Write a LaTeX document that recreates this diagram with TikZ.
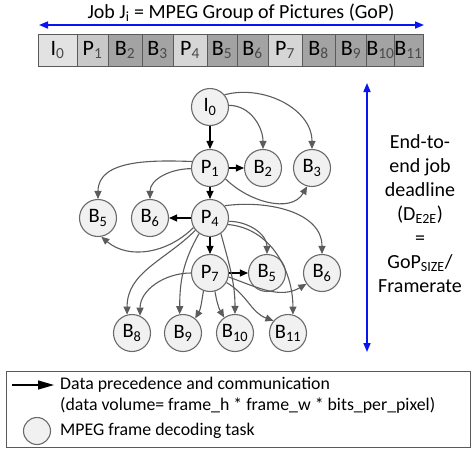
\documentclass[tikz,border=0pt]{standalone}
\usepackage{fontspec}
\setmainfont{Carlito}
\usepackage{xcolor}
\usepackage{tikz}
\usetikzlibrary{arrows.meta}
\definecolor{circFill}{HTML}{F1F1F1}
\definecolor{circLine}{HTML}{6A6A6A}
\definecolor{cellLine}{HTML}{5A5A5A}
\definecolor{cellI}{HTML}{E2E2E2}
\definecolor{cellP}{HTML}{C9C9C9}
\definecolor{cellPl}{HTML}{D6D6D6}
\definecolor{cellB}{HTML}{A3A3A3}
\definecolor{subGrey}{HTML}{4A4A4A}
\definecolor{depGrey}{HTML}{5C5C5C}
\definecolor{spanBlue}{HTML}{0A14F0}
\newcommand{\frm}[2]{#1\textsubscript{#2}}
\tikzset{
  taskcirc/.style={circle, draw=circLine, fill=circFill, line width=1.1pt, minimum size=37pt, inner sep=0pt, font=\fontsize{20.5}{20}\selectfont},
  gopcell/.style={rectangle, draw=cellLine, fill=#1, line width=0.9pt, minimum height=32pt, inner sep=0pt, font=\fontsize{22}{22}\selectfont},
  deparrow/.style={-{Triangle[length=8pt,width=7pt]}, line width=1.1pt, draw=depGrey},
  mainarrow/.style={-{Triangle[length=8pt,width=7pt]}, line width=1.1pt, draw=black},
  spanarrow/.style={{Triangle[length=9pt,width=7pt]}-{Triangle[length=9pt,width=7pt]}, line width=1.6pt, draw=spanBlue},
  legendtext/.style={font=\fontsize{17.8}{20}\selectfont, anchor=west, inner sep=0pt, align=left},
}

\begin{document}
\begin{tikzpicture}[x=1pt,y=1pt]
  \useasboundingbox (0,0) rectangle (472,-451);

  % ---------- group of pictures ----------
  \node[font=\fontsize{20}{20}\selectfont] (title) at (241,-13) {Job \frm{J}{i} = MPEG Group of Pictures (GoP)};
  \coordinate (gopL) at (39,-25);
  \coordinate (gopR) at (424,-25);
  \draw[spanarrow] (gopL) -- (gopR);

  \foreach \lbl/\sb/\xl/\xr/\fc in {I/0/38/77/cellI, P/1/77/108/cellP, B/2/108/142/cellB, B/3/142/173/cellB,
      P/4/173/207/cellPl, B/5/207/237/cellB, B/6/237/268/cellB, P/7/268/302/cellPl,
      B/8/302/335/cellB, B/9/335/367/cellB, B/10/367/394/cellB, B/11/394/423/cellB}{
    \pgfmathsetmacro{\cellx}{(\xl+\xr)/2}
    \pgfmathsetmacro{\cellw}{\xr-\xl}
    \node[gopcell=\fc, minimum width=\cellw pt] (cell\sb) at (\cellx,-50) {\lbl\textsubscript{\color{subGrey}\sb}};
  }

  % ---------- task graph ----------
  \node[taskcirc] (I0)  at (210,-107) {\frm{I}{0}};
  \node[taskcirc] (P1)  at (210,-168) {\frm{P}{1}};
  \node[taskcirc] (B2)  at (263,-168) {\frm{B}{2}};
  \node[taskcirc] (B3)  at (312,-168) {\frm{B}{3}};
  \node[taskcirc] (B5l) at (98,-218)  {\frm{B}{5}};
  \node[taskcirc] (B6l) at (150,-218) {\frm{B}{6}};
  \node[taskcirc] (P4)  at (210,-218) {\frm{P}{4}};
  \node[taskcirc] (P7)  at (210,-273) {\frm{P}{7}};
  \node[taskcirc] (B5r) at (267,-273) {\frm{B}{5}};
  \node[taskcirc] (B6r) at (322,-273) {\frm{B}{6}};
  \node[taskcirc] (B8)  at (132,-333) {\frm{B}{8}};
  \node[taskcirc] (B9)  at (183,-333) {\frm{B}{9}};
  \node[taskcirc] (B10) at (235,-333) {\frm{B}{10}};
  \node[taskcirc] (B11) at (288,-333) {\frm{B}{11}};

  % ---------- direct dependencies ----------
  \draw[mainarrow] (I0) -- (P1);
  \draw[mainarrow] (P1) -- (P4);
  \draw[mainarrow] (P4) -- (P7);
  \draw[mainarrow] (P1) -- (B2);
  \draw[mainarrow] (P4) -- (B6l);
  \draw[mainarrow] (P7) -- (B5r);

  % ---------- reference frames ----------
  \draw[deparrow] (I0.5)    to[out=0,in=90]     (B2.north);
  \draw[deparrow] (I0.40)   to[out=15,in=90]    (B3.north);
  \draw[deparrow] (P1.160)  to[out=178,in=90]   (B5l.north);
  \draw[deparrow] (P1.182)  to[out=180,in=90]   (B6l.north);
  \draw[deparrow] (P1.-35)  to[out=-45,in=-120] (B3.-105);
  \draw[deparrow] (P4.-150) to[out=-135,in=-40] (B5l.-80);
  \draw[deparrow] (P4.-10)  to[out=0,in=90]     (B5r.north);
  \draw[deparrow] (P4.40)   to[out=8,in=90]     (B6r.north);
  \draw[deparrow] (P4.-55)  to[out=-75,in=90]   (B10.north);
  \draw[deparrow] (P4.-20)  to[out=-5,in=90]    (B11.75);
  \draw[deparrow] (P4.-140) to[out=-135,in=90]  (B8.105);
  \draw[deparrow] (P4.-125) to[out=-120,in=90]  (B9.100);
  \draw[deparrow] (P7.west) to[out=180,in=90]   (B8.65);
  \draw[deparrow] (P7.-110) to[out=-100,in=60]  (B9.50);
  \draw[deparrow] (P7.-75)  to[out=-80,in=120]  (B10.125);
  \draw[deparrow] (P7.-30)  to[out=-30,in=160]  (B11.140);
  \draw[deparrow] (P7.-12)  to[out=-20,in=-150] (B6r.-145);

  % ---------- deadline ----------
  \coordinate (dlTop) at (367,-83);
  \coordinate (dlBot) at (367,-352);
  \draw[spanarrow] (dlTop) -- (dlBot);
  \node[font=\fontsize{20}{24}\selectfont, align=center] (deadline) at (420,-214)
    {End-to-\\end job\\deadline\\(D\textsubscript{E2E})\\=\\GoP\textsubscript{SIZE}/\\Framerate};

  % ---------- legend ----------
  \node[draw=cellLine, line width=0.9pt, minimum width=464pt, minimum height=76pt, inner sep=0pt] (legend) at (238,-409) {};
  \coordinate (legA) at (12,-385);
  \coordinate (legB) at (54,-385);
  \draw[mainarrow, -{Triangle[length=16pt,width=9pt]}] (legA) -- (legB);
  \node[legendtext] (legDep) at (60,-385) {Data precedence and communication};
  \node[legendtext] (legVol) at (60,-405) {(data volume= frame\_h * frame\_w * bits\_per\_pixel)};
  \node[circle, draw=circLine, fill=circFill, line width=1.1pt, minimum size=27pt, inner sep=0pt] (legTask) at (37,-431) {};
  \node[legendtext] (legTxt) at (60,-431) {MPEG frame decoding task};

\end{tikzpicture}
\end{document}
